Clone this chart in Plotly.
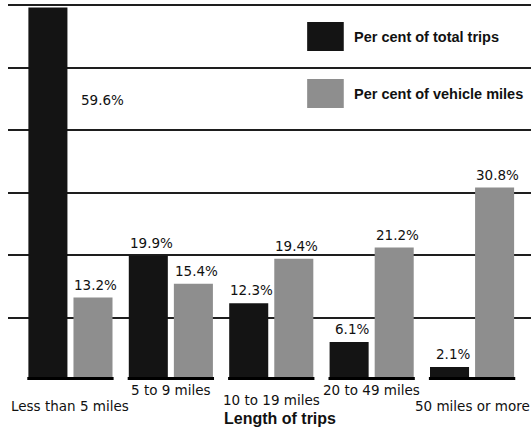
import plotly.graph_objects as go

# Trip length categories and shares (%)
categories = ["Less than 5 miles", "5 to 9 miles", "10 to 19 miles",
              "20 to 49 miles", "50 miles or more"]
pct_total_trips = [59.6, 19.9, 12.3, 6.1, 2.1]
pct_vehicle_miles = [13.2, 15.4, 19.4, 21.2, 30.8]
series_names = ["Per cent of total trips", "Per cent of vehicle miles"]

BLACK = "#141414"
GRAY = "#8e8e8e"
GRID = "#1e1e1e"
VALUE_FONT = dict(family="DejaVu Sans", size=13.5, color="#111")
BOLD_FONT = "Liberation Sans"

# vertical drop (px) of each category label below the baseline
label_drop = [26, 10, 20, 10, 26]
# horizontal offset of each bar of a pair from the category centre
half_slot = 0.2245

fig = go.Figure()
fig.add_trace(go.Bar(x=categories, y=pct_total_trips, name=series_names[0],
                     marker=dict(color=BLACK, line=dict(width=0))))
fig.add_trace(go.Bar(x=categories, y=pct_vehicle_miles, name=series_names[1],
                     marker=dict(color=GRAY, line=dict(width=0))))

annotations = []
shapes = []
y_top = 60.8
for i, cat in enumerate(categories):
    for side, vals in ((-1, pct_total_trips), (1, pct_vehicle_miles)):
        v = vals[i]
        if v > y_top - 4:
            # bar too tall for a label above it: put it beside the bar
            annotations.append(dict(x=i + 0.32, y=v - 14.8, xref="x", yref="y",
                                    text=f"{v}%", showarrow=False,
                                    font=VALUE_FONT))
        else:
            annotations.append(dict(x=i + side * half_slot, y=v, xref="x", yref="y",
                                    text=f"{v}%", showarrow=False,
                                    yanchor="middle", yshift=13, xshift=3,
                                    font=VALUE_FONT))
    # category label under the pair of bars
    annotations.append(dict(x=i, y=0, xref="x", yref="paper", text=cat,
                            showarrow=False, yanchor="middle",
                            yshift=-label_drop[i], font=VALUE_FONT))
    # heavy base rule under each pair of bars
    shapes.append(dict(type="rect", xref="x", yref="y",
                       x0=i - 0.43, x1=i + 0.43, y0=0, y1=0.5,
                       fillcolor="#000", line=dict(width=0), layer="above"))

# axis title
annotations.append(dict(x=0.52, y=0, xref="paper", yref="paper",
                        text="<b>Length of trips</b>", showarrow=False,
                        yanchor="middle", yshift=-38,
                        font=dict(family=BOLD_FONT, size=16, color="#111")))

# legend: large swatches with bold captions
legend_rows = [(series_names[0], BLACK, 0.942, 0.866, 0.903),
               (series_names[1], GRAY, 0.792, 0.716, 0.752)]
for name, color, y1, y0, ytxt in legend_rows:
    shapes.append(dict(type="rect", xref="paper", yref="paper",
                       x0=0.572, x1=0.642, y0=y0, y1=y1,
                       fillcolor=color, line=dict(width=0)))
    annotations.append(dict(x=0.658, y=ytxt, xref="paper", yref="paper",
                            text=f"<b>{name}</b>", showarrow=False,
                            xanchor="left", yanchor="middle",
                            font=dict(family=BOLD_FONT, size=14.5, color="#111")))

fig.update_layout(
    width=531, height=427,
    margin=dict(l=8, r=0, t=0, b=47),
    paper_bgcolor="white", plot_bgcolor="white",
    barmode="group", bargap=0.102, bargroupgap=0.134,
    showlegend=False,
    annotations=annotations, shapes=shapes,
    xaxis=dict(range=[-0.622, 4.587], showticklabels=False, showgrid=False,
               zeroline=False, showline=False, ticks=""),
    yaxis=dict(range=[0, y_top], tickvals=[10, 20, 30, 40, 50, 60],
               showticklabels=False, showgrid=True, gridcolor=GRID,
               gridwidth=1.6, zeroline=False, showline=False, ticks=""),
)

fig.write_html("out.html")
